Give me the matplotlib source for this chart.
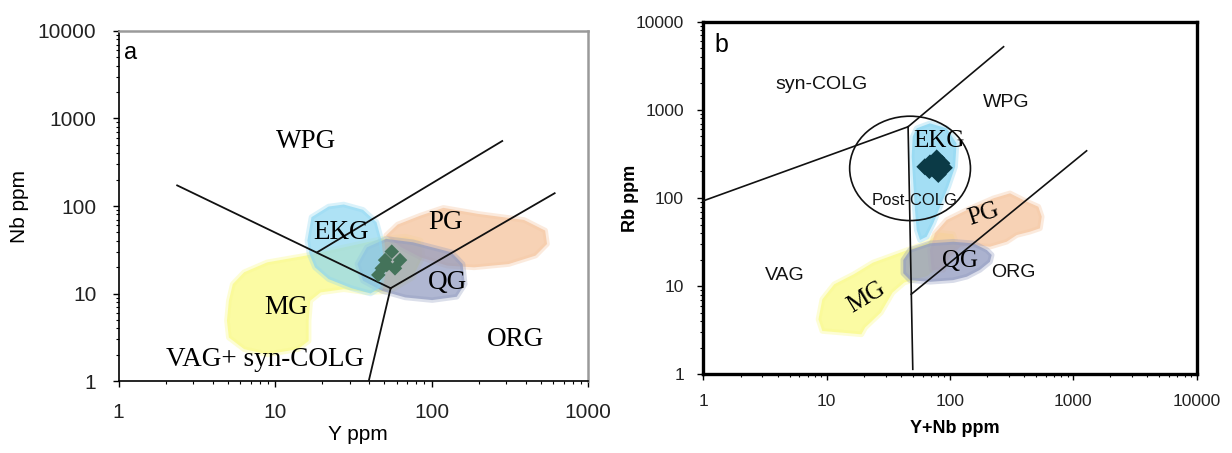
import numpy as np
import matplotlib.pyplot as plt
from matplotlib.patches import Polygon, Ellipse

plt.rcParams['font.family'] = ['Liberation Sans', 'DejaVu Sans']

# ---------------- panel a : Nb vs Y (ppm) ----------------
a_line_x = [[2.37, 54.8], [18.6, 283], [54.8, 612], [54.8, 39.7]]
a_line_y = [[172, 11.5], [29.6, 553], [11.5, 140], [11.5, 1.0]]

a_mg_x = [5.07, 4.93, 5.07, 6.35, 8.91, 14.0, 16.4, 16.4, 16.8, 19.6, 27.5, 38.6,
          54.2, 76.0, 87.5, 85.1, 67.9, 48.4, 27.5, 15.7, 8.91, 6.35, 5.37]
a_mg_y = [8.26, 4.88, 3.14, 2.31, 2.02, 2.31, 2.87, 4.88, 8.26, 10.3, 11.2, 10.3,
          10.7, 15.3, 25.9, 40.3, 44.7, 42.1, 33.7, 27.1, 22.7, 17.5, 12.8]
a_pg_x = [51.2, 60.7, 85.1, 119, 198, 390, 532, 547, 462, 311, 187, 126, 85.1, 64.1]
a_pg_y = [45.9, 61.4, 77.8, 95.3, 81.3, 69.3, 52.4, 36.8, 27.1, 21.7, 19.9, 20.8, 25.9, 33.7]
a_qg_x = [33.6, 38.6, 51.2, 76.0, 134, 158, 163, 145, 101, 67.9, 48.4, 36.5]
a_qg_y = [21.7, 33.7, 42.1, 38.5, 29.6, 21.7, 12.8, 9.18, 8.41, 9.02, 10.7, 14.0]
a_ekg_x = [16.1, 17.1, 22.0, 27.5, 36.5, 44.5, 47.9, 49.8, 47.1, 40.8, 30.8, 22.0, 18.0, 16.6]
a_ekg_y = [40.3, 74.5, 98.6, 104, 90.4, 65.3, 40.3, 21.7, 11.7, 10.0, 11.5, 14.6, 19.9, 28.3]
a_sample_x = [55.7, 62.9, 50.5, 58.4, 48.1, 45.7, 51.7]
a_sample_y = [30.1, 24.1, 24.1, 19.4, 19.4, 16.3, 21.2]

a_labels = ['WPG', 'EKG', 'PG', 'QG', 'MG', 'ORG', 'VAG+ syn-COLG']
a_label_x = [15.9, 26.5, 123, 126, 11.8, 344, 8.7]
a_label_y = [540, 50, 65, 13.4, 6.9, 3.0, 1.77]

# ---------------- panel b : Rb vs Y+Nb (ppm) ----------------
b_line_x = [[1.0, 45.7], [45.7, 272], [45.7, 49.9], [48.5, 1283]]
b_line_y = [[93, 643], [643, 5200], [643, 1.14], [8.1, 343]]

b_mg_x = [8.57, 9.21, 11.5, 16.5, 23.7, 39.5, 65.8, 81.8, 106, 114, 88.0, 65.8,
          42.5, 34.2, 27.5, 20.5, 19.1, 13.3, 9.21]
b_mg_y = [4.21, 7.10, 10.5, 13.6, 18.5, 24.0, 31.2, 40.6, 38.8, 28.6, 18.5, 13.1,
          11.0, 8.45, 5.01, 3.39, 2.84, 2.97, 3.10]
b_pg_x = [71.0, 68.8, 75.5, 94.0, 137, 225, 307, 393, 521, 555, 537, 446, 348,
          288, 211, 155, 121, 100, 88.3]
b_pg_y = [15.3, 25.7, 39.8, 56.3, 73.1, 99.2, 113, 94.9, 79.6, 61.4, 45.3, 41.5,
          38.0, 31.9, 28.0, 29.3, 28.0, 21.6, 15.3]
b_qg_x = [41.8, 47.4, 68.8, 106, 155, 199, 218, 211, 175, 137, 106, 68.8, 47.4, 41.8]
b_qg_y = [19.8, 25.7, 30.6, 31.9, 30.6, 25.7, 22.6, 18.9, 15.3, 12.8, 11.7, 11.2, 11.7, 14.0]
b_ekg_x = [53.7, 68.8, 94.0, 113, 110, 96.9, 83.0, 73.2, 64.7, 57.1, 53.7, 52.0, 50.4, 48.9, 49.8]
b_ekg_y = [618, 703, 618, 417, 226, 134, 79.6, 51.6, 36.4, 33.4, 43.4, 73.1, 147, 294, 496]
b_sample_x = [62.5, 68.8, 78.0, 86.0, 90.0, 75.5, 68.0, 80.4]
b_sample_y = [226, 250, 285, 248, 220, 205, 205, 185]

b_serif_labels = ['EKG', 'PG', 'QG', 'MG']
b_serif_x = [81.8, 186, 120, 20.8]
b_serif_y = [446, 65.5, 19.4, 7.4]
b_serif_rot = [0, 18, 0, 31]
b_sans_labels = ['syn-COLG', 'WPG', 'Post-COLG', 'ORG', 'VAG']
b_sans_x = [9.1, 288, 51.8, 327, 4.6]
b_sans_y = [1960, 1213, 93, 14.3, 13.3]

tick_vals = [1, 10, 100, 1000, 10000]

col_mg = (0.98, 0.98, 0.55)
col_pg = (0.96, 0.78, 0.64)
col_qg = (0.56, 0.6, 0.75)
col_ekg = (0.55, 0.84, 0.95)

fig = plt.figure(figsize=(12.32, 4.53), dpi=100)
ax1 = fig.add_axes([0.0962, 0.1589, 0.3811, 0.7727])
ax2 = fig.add_axes([0.5710, 0.1737, 0.4002, 0.7784])


def blob(ax, xs, ys, col, alpha=0.8, z=1):
    # soft rim first, then the body
    ax.add_patch(Polygon(np.column_stack([xs, ys]), closed=True, facecolor='none',
                         edgecolor=col, lw=4, alpha=alpha * 0.45, zorder=z, joinstyle='round'))
    ax.add_patch(Polygon(np.column_stack([xs, ys]), closed=True, facecolor=col,
                         edgecolor='none', alpha=alpha, zorder=z, joinstyle='round'))


def setup(ax, xmax, fs, pad):
    ax.set_xscale('log')
    ax.set_yscale('log')
    ax.set_xlim(1, xmax)
    ax.set_ylim(1, 10000)
    xt = [t for t in tick_vals if t <= xmax]
    ax.set_xticks(xt)
    ax.set_xticklabels([str(t) for t in xt])
    ax.set_yticks(tick_vals)
    ax.set_yticklabels([str(t) for t in tick_vals])
    ax.tick_params(which='major', direction='out', length=4, width=1, labelsize=fs, pad=pad,
                   colors='black', labelcolor='#222222')
    ax.tick_params(which='minor', direction='out', length=2.5, width=0.8)


# ---- panel a ----
setup(ax1, 1000, 15, 12)
blob(ax1, a_mg_x, a_mg_y, col_mg, 0.8, 1)
blob(ax1, a_pg_x, a_pg_y, col_pg, 0.8, 2)
blob(ax1, a_qg_x, a_qg_y, col_qg, 0.7, 3)
blob(ax1, a_ekg_x, a_ekg_y, col_ekg, 0.7, 4)
for xs, ys in zip(a_line_x, a_line_y):
    ax1.plot(xs, ys, color='#111111', lw=1.3, zorder=5)
ax1.scatter(a_sample_x, a_sample_y, marker='D', s=55, color='#44735a', edgecolors='none', zorder=6)
for t, x, y in zip(a_labels, a_label_x, a_label_y):
    ax1.text(x, y, t, family='Liberation Serif', fontsize=19.5, ha='center', va='center', zorder=7)
ax1.text(0.012, 0.937, 'a', transform=ax1.transAxes, fontsize=17, ha='left', va='center')
for s in ['top', 'right']:
    ax1.spines[s].set_color('#9a9a9a')
    ax1.spines[s].set_linewidth(1.8)
for s in ['left', 'bottom']:
    ax1.spines[s].set_color('black')
    ax1.spines[s].set_linewidth(1.2)
ax1.set_xlabel('Y ppm', fontsize=15)
ax1.set_ylabel('Nb ppm', fontsize=15)
ax1.xaxis.set_label_coords(0.509, -0.125)
ax1.yaxis.set_label_coords(-0.19, 0.5)

# ---- panel b ----
setup(ax2, 10000, 12.5, 10)
blob(ax2, b_mg_x, b_mg_y, col_mg, 0.8, 1)
blob(ax2, b_pg_x, b_pg_y, col_pg, 0.8, 2)
blob(ax2, b_qg_x, b_qg_y, col_qg, 0.75, 3)
blob(ax2, b_ekg_x, b_ekg_y, col_ekg, 0.8, 4)
for xs, ys in zip(b_line_x, b_line_y):
    ax2.plot(xs, ys, color='#111111', lw=1.2, zorder=5)
ax2.add_patch(Ellipse((0.419, 0.584), 0.245, 0.296, transform=ax2.transAxes,
                      fill=False, edgecolor='#111111', lw=1.2, zorder=5))
ax2.scatter(b_sample_x, b_sample_y, marker='D', s=75, color='#0b3a46', edgecolors='none', zorder=6)
for t, x, y, r in zip(b_serif_labels, b_serif_x, b_serif_y, b_serif_rot):
    ax2.text(x, y, t, family='Liberation Serif', fontsize=18, rotation=r,
             ha='center', va='center', zorder=7)
for t, x, y in zip(b_sans_labels, b_sans_x, b_sans_y):
    fs = 12 if t == 'Post-COLG' else 14
    ax2.text(x, y, t, fontsize=fs, ha='center', va='center', color='#111111', zorder=7)
ax2.text(0.022, 0.935, 'b', transform=ax2.transAxes, fontsize=18, ha='left', va='center')
for s in ax2.spines.values():
    s.set_color('black')
    s.set_linewidth(2.4)
ax2.set_xlabel('Y+Nb ppm', fontsize=13, fontweight='bold')
ax2.set_ylabel('Rb ppm', fontsize=13, fontweight='bold')
ax2.xaxis.set_label_coords(0.51, -0.13)
ax2.yaxis.set_label_coords(-0.13, 0.5)

fig.savefig('out.png', dpi=100)
